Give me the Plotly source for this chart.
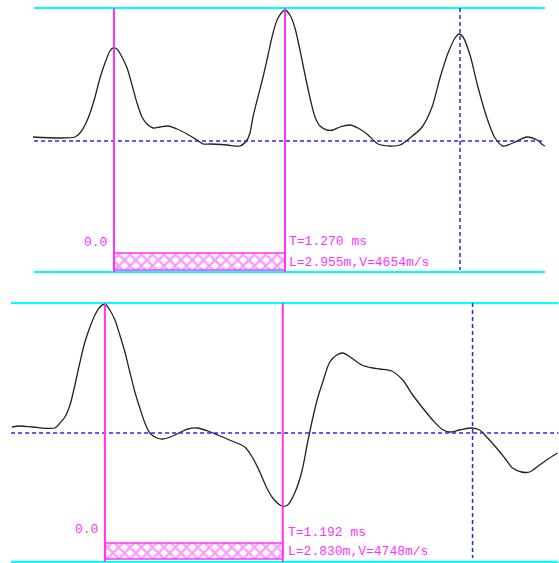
import plotly.graph_objects as go

# ---------------- data: upper record (time in ms, amplitude in counts) ----------------
top_t = [-0.602, -0.290, -0.253, -0.215, -0.178, -0.141, -0.104, -0.067, -0.030, -0.007,
         0.022, 0.059, 0.097, 0.134, 0.171, 0.208, 0.245, 0.290, 0.342, 0.401,
         0.468, 0.542, 0.616, 0.661, 0.713, 0.839, 0.936, 0.988, 1.010, 1.032,
         1.069, 1.107, 1.144, 1.181, 1.218, 1.270, 1.307, 1.344, 1.381, 1.419,
         1.456, 1.493, 1.530, 1.582, 1.627, 1.678, 1.753, 1.812, 1.879, 1.961,
         2.050, 2.124, 2.198, 2.288, 2.362, 2.421, 2.481, 2.533, 2.562, 2.592,
         2.644, 2.703, 2.770, 2.830, 2.889, 2.963, 3.067, 3.142, 3.186, 3.201]
top_a = [4, 4, 8, 16, 28, 44, 63, 78, 90, 93,
         92, 84, 73, 56, 38, 24, 17, 13, 14, 15,
         12, 7, 1, -3, -3, -4, -5, 1, 8, 24,
         44, 64, 86, 108, 123, 131, 126, 113, 91, 66,
         43, 24, 15, 11, 11, 14, 16, 13, 7, -3,
         -5, -4, 3, 14, 34, 63, 88, 103, 107, 104,
         86, 54, 23, 3, -5, -2, 4, 1, -4, -5]

# ---------------- data: lower record ----------------
bot_t = [-0.623, -0.569, -0.482, -0.335, -0.301, -0.268, -0.234, -0.201, -0.167, -0.134,
         -0.100, -0.067, -0.033, 0.000, 0.033, 0.067, 0.100, 0.134, 0.167, 0.201,
         0.234, 0.268, 0.301, 0.348, 0.388, 0.455, 0.522, 0.556, 0.616, 0.690,
         0.757, 0.850, 0.938, 0.991, 1.038, 1.085, 1.125, 1.185, 1.225, 1.272,
         1.319, 1.359, 1.393, 1.426, 1.460, 1.507, 1.554, 1.594, 1.654, 1.721,
         1.795, 1.842, 1.922, 1.996, 2.063, 2.130, 2.196, 2.257, 2.310, 2.377,
         2.458, 2.511, 2.565, 2.625, 2.679, 2.732, 2.792, 2.846, 2.913, 2.980, 3.034]
bot_a = [6, 7, 6, 5, 10, 16, 28, 48, 71, 91,
         106, 118, 126, 129, 123, 113, 98, 81, 61, 41,
         25, 10, 0, -5, -6, -3, 2, 4, 5, 2,
         -2, -8, -14, -25, -39, -55, -65, -73, -72, -60,
         -39, -9, 15, 35, 51, 71, 78, 80, 75, 68,
         65, 64, 62, 53, 38, 25, 13, 4, 1, 3,
         5, 3, -5, -15, -25, -35, -39, -39, -32, -25, -20]

# cursor / marker values per record
panels = [
    dict(t=top_t, a=top_a, xr=[-0.8467, 3.3050], yr=[-140.5, 141.0], dom=[0.5, 1.0],
         x0=-0.594, x1=3.201, ytop=133, ybot=-131, c1=0.0, c2=1.270, c3=2.570, c3bot=-129,
         hatch=[-112, -129], lab0=(-0.040, -101), labT=(1.285, -100), labL=(1.285, -121),
         T="T=1.270 ms", L="L=2.955m,V=4654m/s"),
    dict(t=bot_t, a=bot_a, xr=[-0.7031, 3.0434], yr=[-130.0, 151.5], dom=[0.0, 0.5],
         x0=-0.629, x1=3.040, ytop=130, ybot=-129, c1=0.0, c2=1.192, c3=2.464, c3bot=-125,
         hatch=[-110, -126], lab0=(-0.030, -96), labT=(1.212, -99), labL=(1.212, -118),
         T="T=1.192 ms", L="L=2.830m,V=4748m/s"),
]

CYAN = "#00FFFF"
MAG = "#FF33FF"
BLUE = "#2828E8"
FONT = dict(family="Liberation Mono, DejaVu Sans Mono, monospace", size=13, color=MAG)

fig = go.Figure()
shapes = []
annotations = []
for i, p in enumerate(panels):
    xa = "x" if i == 0 else "x2"
    ya = "y" if i == 0 else "y2"
    # hatched bar between cursors
    fig.add_trace(go.Scatter(
        x=[p["c1"], p["c2"], p["c2"], p["c1"], p["c1"]],
        y=[p["hatch"][0], p["hatch"][0], p["hatch"][1], p["hatch"][1], p["hatch"][0]],
        xaxis=xa, yaxis=ya, mode="lines", fill="toself",
        fillcolor="white",
        fillpattern=dict(shape="x", fgcolor=MAG, bgcolor="white", size=8, solidity=0.5),
        line=dict(color=MAG, width=1.5), hoverinfo="skip", showlegend=False))
    # waveform
    fig.add_trace(go.Scatter(x=p["t"], y=p["a"], xaxis=xa, yaxis=ya, mode="lines",
                             line=dict(color="#222222", width=1.3, shape="spline", smoothing=0.8),
                             hoverinfo="skip", showlegend=False))
    # cyan frame lines
    for yv in (p["ytop"], p["ybot"]):
        shapes.append(dict(type="line", xref=xa, yref=ya, x0=p["x0"], x1=p["x1"], y0=yv, y1=yv,
                           line=dict(color=CYAN, width=2)))
    # zero line
    shapes.append(dict(type="line", xref=xa, yref=ya, x0=p["x0"], x1=p["x1"], y0=0, y1=0,
                       line=dict(color=BLUE, width=1.5, dash="4px,3px")))
    # third cursor (dashed)
    shapes.append(dict(type="line", xref=xa, yref=ya, x0=p["c3"], x1=p["c3"], y0=p["ytop"], y1=p["c3bot"],
                       line=dict(color=BLUE, width=1.5, dash="4px,3px")))
    # magenta cursors
    for cx in (p["c1"], p["c2"]):
        shapes.append(dict(type="line", xref=xa, yref=ya, x0=cx, x1=cx, y0=p["ytop"], y1=p["ybot"],
                           line=dict(color=MAG, width=2)))
    annotations.append(dict(xref=xa, yref=ya, x=p["lab0"][0], y=p["lab0"][1], text="0.0",
                            showarrow=False, xanchor="right", yanchor="middle", font=FONT))
    annotations.append(dict(xref=xa, yref=ya, x=p["labT"][0], y=p["labT"][1], text=p["T"],
                            showarrow=False, xanchor="left", yanchor="middle", font=FONT))
    annotations.append(dict(xref=xa, yref=ya, x=p["labL"][0], y=p["labL"][1], text=p["L"],
                            showarrow=False, xanchor="left", yanchor="middle", font=FONT))

ax = dict(visible=False, showgrid=False, zeroline=False, fixedrange=True)
fig.update_layout(
    width=559, height=563, margin=dict(l=0, r=0, t=0, b=0),
    paper_bgcolor="white", plot_bgcolor="white", hovermode=False,
    xaxis=dict(ax, range=panels[0]["xr"], domain=[0, 1], anchor="y"),
    yaxis=dict(ax, range=panels[0]["yr"], domain=panels[0]["dom"], anchor="x"),
    xaxis2=dict(ax, range=panels[1]["xr"], domain=[0, 1], anchor="y2"),
    yaxis2=dict(ax, range=panels[1]["yr"], domain=panels[1]["dom"], anchor="x2"),
    shapes=shapes, annotations=annotations,
)
fig.write_html("out.html", config={"displayModeBar": False},
               post_script="document.body.style.margin='0';document.body.style.overflow='hidden';")
